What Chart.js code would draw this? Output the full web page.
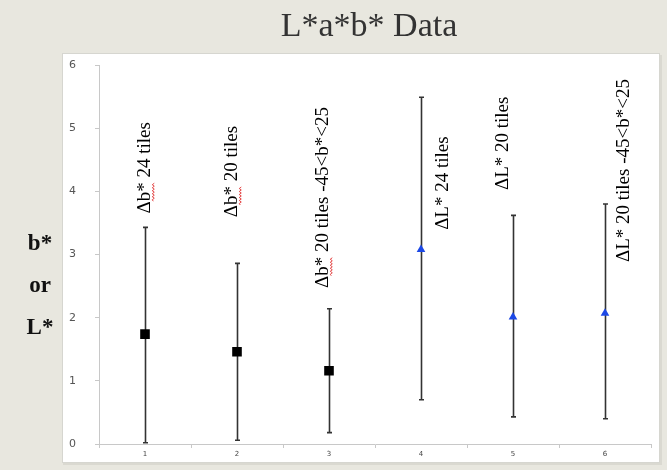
<!DOCTYPE html>
<html>
<head>
<meta charset="utf-8">
<script src="https://cdn.jsdelivr.net/npm/chart.js@4/dist/chart.umd.min.js"></script>
<style>
html,body{margin:0;padding:0;background:#e8e7df;}
#wrap{width:667px;height:470px;position:relative;}
</style>
</head>
<body>
<div id="wrap"><canvas id="c" width="667" height="470"></canvas></div>
<script>
const categories = ['1', '2', '3', '4', '5', '6'];
const bMeans = [1.74, 1.46, 1.16, null, null, null];
const lMeans = [null, null, null, 3.08, 2.01, 2.07];
const errLow = [0.02, 0.06, 0.18, 0.70, 0.43, 0.40];
const errHigh = [3.43, 2.86, 2.14, 5.49, 3.62, 3.80];
const pointLabels = ['Δb* 24 tiles', 'Δb* 20 tiles', 'Δb* 20 tiles -45<b*<25', 'ΔL* 24 tiles', 'ΔL* 20 tiles', 'ΔL* 20 tiles -45<b*<25'];
const yTickValues = [0, 1, 2, 3, 4, 5, 6];
const titleText = 'L*a*b* Data';
const yTitleLines = ['b*', 'or', 'L*'];

// annotation placement (label start in data units, sideways shift in px)
const labelStart = [3.65, 3.59, 2.47, 3.39, 4.02, 2.88];
const labelShift = [-1, -6, -7, 21, -11, 18];

const backgroundPlugin = {
  id: 'bg',
  beforeDraw(chart) {
    const ctx = chart.ctx;
    ctx.save();
    ctx.fillStyle = '#e8e7df';
    ctx.fillRect(0, 0, chart.width, chart.height);
    ctx.fillStyle = 'rgba(0,0,0,0.06)';
    ctx.fillRect(63, 55, 599, 410);
    ctx.fillStyle = '#ffffff';
    ctx.fillRect(62, 53, 598, 410);
    ctx.strokeStyle = '#d6d6d0';
    ctx.lineWidth = 1;
    ctx.strokeRect(62.5, 53.5, 597, 409);
    // title
    ctx.fillStyle = '#333333';
    ctx.font = '34px "Liberation Serif", "Times New Roman", serif';
    ctx.textAlign = 'center';
    ctx.textBaseline = 'alphabetic';
    ctx.fillText(titleText, 369, 36);
    // y title
    ctx.fillStyle = '#111111';
    ctx.font = 'bold 23px "Liberation Serif", "Times New Roman", serif';
    yTitleLines.forEach((t, i) => ctx.fillText(t, 40, 250 + i * 42));
    ctx.restore();
  }
};

const errorBarPlugin = {
  id: 'errbars',
  beforeDatasetsDraw(chart) {
    const ctx = chart.ctx;
    const xs = chart.scales.x, ys = chart.scales.y;
    ctx.save();
    ctx.strokeStyle = '#333333';
    ctx.lineWidth = 1.6;
    categories.forEach((c, i) => {
      const x = Math.round(xs.getPixelForValue(i)) + 0.5;
      const y1 = ys.getPixelForValue(errLow[i]);
      const y2 = ys.getPixelForValue(errHigh[i]);
      ctx.beginPath();
      ctx.moveTo(x, y1); ctx.lineTo(x, y2);
      ctx.moveTo(x - 2.5, y1); ctx.lineTo(x + 2.5, y1);
      ctx.moveTo(x - 2.5, y2); ctx.lineTo(x + 2.5, y2);
      ctx.stroke();
    });
    ctx.restore();
  }
};

const labelPlugin = {
  id: 'vlabels',
  afterDatasetsDraw(chart) {
    const ctx = chart.ctx;
    const xs = chart.scales.x, ys = chart.scales.y;
    const fs = 19;
    ctx.save();
    ctx.font = fs + 'px "Liberation Serif", "Times New Roman", serif';
    ctx.textAlign = 'left';
    ctx.textBaseline = 'alphabetic';
    pointLabels.forEach((t, i) => {
      const px = xs.getPixelForValue(i) + labelShift[i];
      const py = ys.getPixelForValue(labelStart[i]);
      ctx.save();
      ctx.translate(px, py);
      ctx.rotate(-Math.PI / 2);
      ctx.fillStyle = '#000000';
      const base = fs * 0.33;
      ctx.fillText(t, 0, base);
      if (t.startsWith('Δb*')) {
        const a = ctx.measureText('Δ').width;
        const b = ctx.measureText('Δb*').width;
        ctx.strokeStyle = '#e03030';
        ctx.lineWidth = 0.9;
        ctx.beginPath();
        let up = true;
        ctx.moveTo(a, base + 3);
        for (let s = a + 1.5; s <= b; s += 1.5) {
          ctx.lineTo(s, base + (up ? 2 : 4));
          up = !up;
        }
        ctx.stroke();
      }
      ctx.restore();
    });
    ctx.restore();
  }
};

new Chart(document.getElementById('c'), {
  type: 'line',
  data: {
    labels: categories,
    datasets: [
      {
        label: 'Δb*',
        data: bMeans,
        showLine: false,
        pointStyle: 'rect',
        pointRadius: 6.8,
        pointBackgroundColor: '#000000',
        pointBorderColor: '#000000',
        pointBorderWidth: 0
      },
      {
        label: 'ΔL*',
        data: lMeans,
        showLine: false,
        pointStyle: 'triangle',
        pointRadius: 5,
        pointBackgroundColor: '#1c48e6',
        pointBorderColor: '#1c48e6',
        pointBorderWidth: 0
      }
    ]
  },
  options: {
    responsive: false,
    animation: false,
    devicePixelRatio: 1,
    layout: { padding: { left: 0, right: 16, top: 65, bottom: 0 } },
    plugins: { legend: { display: false }, tooltip: { enabled: false }, title: { display: false } },
    scales: {
      x: {
        type: 'category',
        offset: true,
        afterFit(s) { s.height = 26; },
        grid: { offset: true, drawOnChartArea: false, drawTicks: true, tickLength: 4, color: '#c8c8c8' },
        border: { color: '#c8c8c8', width: 1 },
        ticks: { color: '#444444', padding: 2, font: { size: 7, family: 'DejaVu Sans' } }
      },
      y: {
        type: 'linear',
        min: 0,
        max: 6,
        afterFit(s) { s.width = 99; },
        afterBuildTicks(s) { s.ticks = yTickValues.map(v => ({ value: v })); },
        grid: { drawOnChartArea: false, drawTicks: true, tickLength: 4, color: '#c8c8c8' },
        border: { color: '#c8c8c8', width: 1 },
        ticks: { color: '#555555', padding: 19, font: { size: 11, family: 'DejaVu Sans' } }
      }
    }
  },
  plugins: [backgroundPlugin, errorBarPlugin, labelPlugin]
});
</script>
</body>
</html>
